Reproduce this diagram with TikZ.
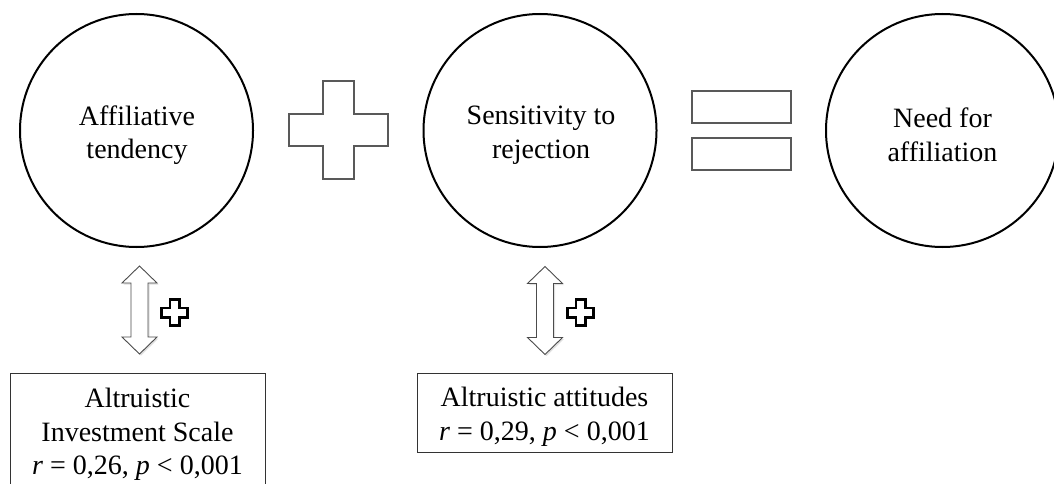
\documentclass[tikz,border=0pt]{standalone}
\usepackage{fontspec}
\setmainfont{Liberation Serif}
\begin{document}
\begin{tikzpicture}[x=1pt,y=-1pt,
  bubble/.style={circle, draw=black, line width=2pt, minimum size=233pt, inner sep=0pt},
  txt/.style={font=\fontsize{28}{33.5}\selectfont, align=center, inner sep=0pt},
  stat/.style={draw=black!80, line width=1pt, inner sep=0pt},
  sym/.style={draw=black!65, line width=1.4pt, fill=white},
  dbl/.style={draw=black!70, line width=0.9pt, fill=white, line join=miter},
  mini/.style={draw=black, line width=2.6pt, fill=white, line join=miter},
  dblarrow/.pic={
    \fill[black!12] ([shift={(1.5,1.5)}]0,-44) -- ([shift={(1.5,1.5)}]17.5,-27) -- ([shift={(1.5,1.5)}]8.5,-27) -- ([shift={(1.5,1.5)}]8.5,27) -- ([shift={(1.5,1.5)}]17.5,27) -- ([shift={(1.5,1.5)}]0,44) -- ([shift={(1.5,1.5)}]-17.5,27) -- ([shift={(1.5,1.5)}]-8.5,27) -- ([shift={(1.5,1.5)}]-8.5,-27) -- ([shift={(1.5,1.5)}]-17.5,-27) -- cycle;
    \draw[dbl] (0,-44) -- (17.5,-27) -- (8.5,-27) -- (8.5,27) -- (17.5,27) -- (0,44) -- (-17.5,27) -- (-8.5,27) -- (-8.5,-27) -- (-17.5,-27) -- cycle;
  },
  miniplus/.pic={
    \draw[mini] (-4.7,-13) -- (4.7,-13) -- (4.7,-4.7) -- (13,-4.7) -- (13,4.7) -- (4.7,4.7) -- (4.7,13) -- (-4.7,13) -- (-4.7,4.7) -- (-13,4.7) -- (-13,-4.7) -- (-4.7,-4.7) -- cycle;
  }
]
\clip (0,0) rectangle (1054,484);
\fill[white] (0,0) rectangle (1054,484);

% circles
\node[bubble] (c1) at (136.5,130.5) {};
\node[txt] (t1) at (137,135) {Affiliative\\tendency};
\node[bubble] (c2) at (540,130.5) {};
\node[txt] (t2) at (541,135) {Sensitivity to\\rejection};
\node[bubble] (c3) at (942.5,130.5) {};
\node[txt] (t3) at (942.5,135) {Need for\\affiliation};

% big plus
\draw[sym] (323,81) -- (354,81) -- (354,114) -- (388,114) -- (388,146) -- (354,146) -- (354,179) -- (323,179) -- (323,146) -- (289,146) -- (289,114) -- (323,114) -- cycle;

% equals
\draw[sym] (692,91) rectangle (791,123);
\draw[sym] (692,138) rectangle (791,170);

% double arrows and small pluses
\pic at (139.5,310) {dblarrow};
\pic at (174.5,312.5) {miniplus};
\pic at (545,310.5) {dblarrow};
\pic at (580.5,312.5) {miniplus};

% boxes
\node[stat, minimum width=255pt, minimum height=130pt, anchor=north west] (b1) at (10,373) {};
\node[txt] (s1) at (137.5,434.5) {Altruistic\\Investment Scale\\\textit{r} = 0,26, \textit{p} < 0,001};
\node[stat, minimum width=255pt, minimum height=79pt, anchor=north west] (b2) at (417,373) {};
\node[txt] (s2) at (544.5,417) {Altruistic attitudes\\\textit{r} = 0,29, \textit{p} < 0,001};
\end{tikzpicture}
\end{document}
